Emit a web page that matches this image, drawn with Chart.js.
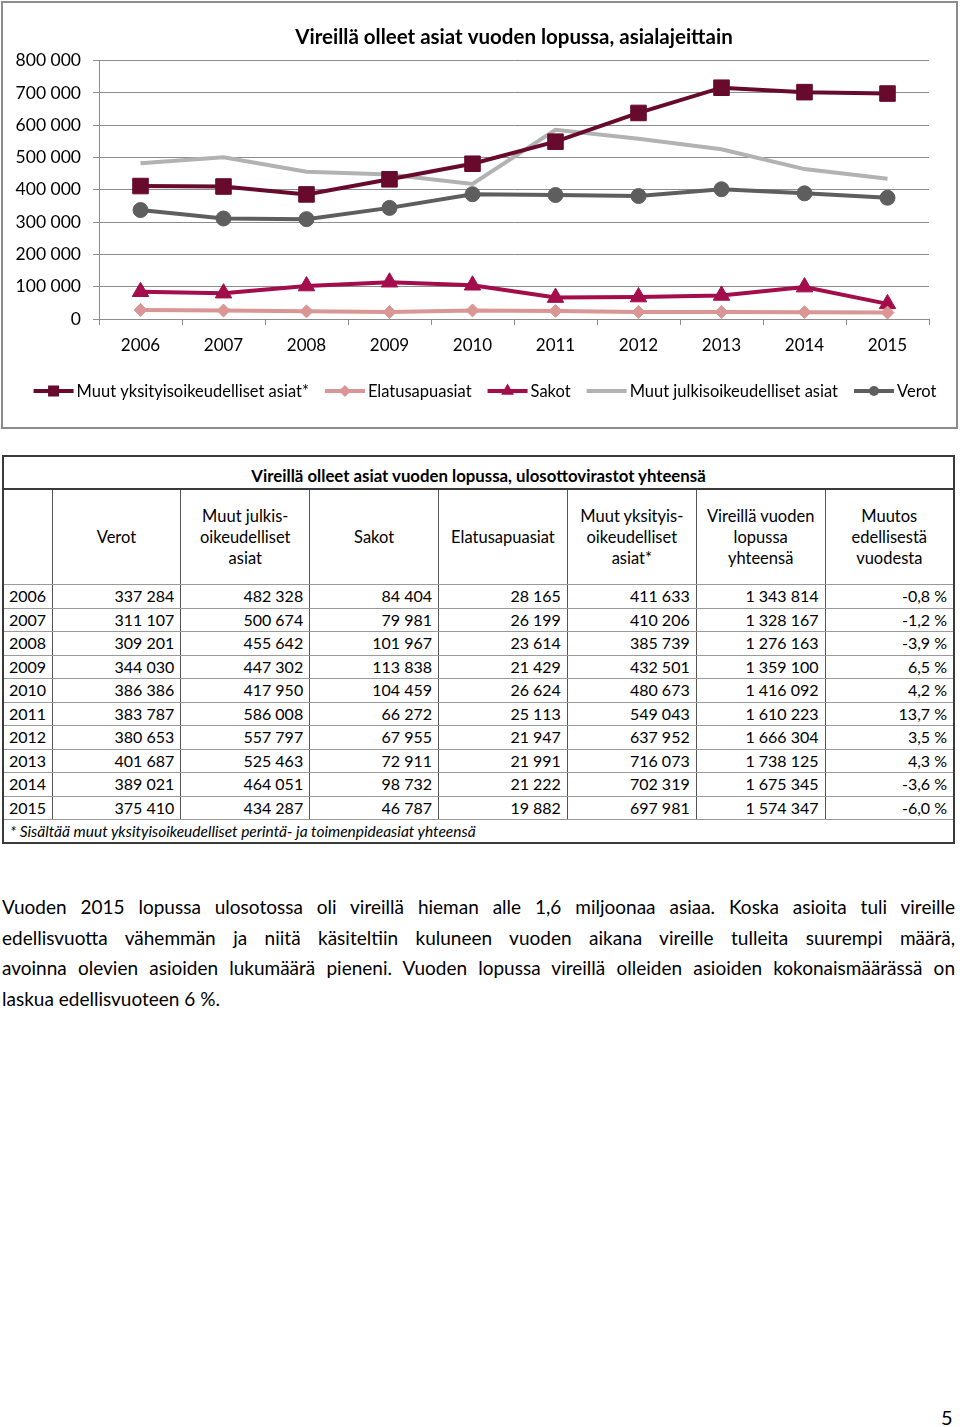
<!DOCTYPE html>
<html>
<head>
<meta charset="utf-8">
<script src="https://cdn.jsdelivr.net/npm/chart.js@4.4.1/dist/chart.umd.min.js"></script>
<style>
    body { margin: 0; width: 960px; height: 1427px; position: relative; background: #fff; font-family: Lato, 'Open Sans', sans-serif; color: #000; }
    #chartBox { position: absolute; left: 1px; top: 1px; width: 957px; height: 428px; border: 2px solid #8c8c8c; box-sizing: border-box; }
    #chartBox canvas { display: block; }
    #dataTable { position: absolute; left: 2px; top: 455px; width: 953px; border-collapse: collapse; table-layout: fixed; font-size: 16px; }
    #dataTable td, #dataTable th { padding: 0 6px; border-left: 1px solid #555; border-right: 1px solid #555; border-top: 1px solid #9a9a9a; border-bottom: 1px solid #9a9a9a; white-space: nowrap; }
    #dataTable .title td { border: 2px solid #3a3a3a; font-weight: bold; font-size: 16.8px; text-align: center; vertical-align: bottom; padding-bottom: 2px; height: 29px; }
    #dataTable .head td { text-align: center; vertical-align: middle; font-size: 16.5px; line-height: 21px; height: 94px; white-space: normal; }
    #dataTable .row td { height: 22.5px; line-height: 20px; text-align: right; }
    #dataTable .row td:first-child { text-align: left; padding-left: 5px; }
    #dataTable .note td { font-style: italic; font-size: 15.5px; height: 22px; padding-left: 6px; border-bottom: 2px solid #3a3a3a; }
    #dataTable { border: 2px solid #3a3a3a; }
    #text { position: absolute; left: 2px; top: 892px; width: 953px; font-size: 19px; line-height: 30.5px; }
    #text div { text-align: justify; text-align-last: justify; white-space: nowrap; }
    #text div.last { text-align-last: left; }
    #pageNo { position: absolute; left: 941px; top: 1405px; font-size: 20px; }
</style>
</head>
<body>
<div id="chartBox"><canvas id="lineChart" width="953" height="424"></canvas></div>
<table id="dataTable">
    <colgroup><col style="width:49px"><col><col><col><col><col><col><col></colgroup>
    <tbody id="tableBody"></tbody>
</table>
<div id="text">
    <div>Vuoden 2015 lopussa ulosotossa oli vireillä hieman alle 1,6 miljoonaa asiaa. Koska asioita tuli vireille</div>
    <div>edellisvuotta vähemmän ja niitä käsiteltiin kuluneen vuoden aikana vireille tulleita suurempi määrä,</div>
    <div>avoinna olevien asioiden lukumäärä pieneni. Vuoden lopussa vireillä olleiden asioiden kokonaismäärässä on</div>
    <div class="last">laskua edellisvuoteen 6 %.</div>
</div>
<div id="pageNo">5</div>

<script>
// Data (values from the table)
const years = ['2006', '2007', '2008', '2009', '2010', '2011', '2012', '2013', '2014', '2015'];
const verot = [337284, 311107, 309201, 344030, 386386, 383787, 380653, 401687, 389021, 375410];
const muutJulkis = [482328, 500674, 455642, 447302, 417950, 586008, 557797, 525463, 464051, 434287];
const sakot = [84404, 79981, 101967, 113838, 104459, 66272, 67955, 72911, 98732, 46787];
const elatus = [28165, 26199, 23614, 21429, 26624, 25113, 21947, 21991, 21222, 19882];
const muutYksityis = [411633, 410206, 385739, 432501, 480673, 549043, 637952, 716073, 702319, 697981];
const yhteensa = [1343814, 1328167, 1276163, 1359100, 1416092, 1610223, 1666304, 1738125, 1675345, 1574347];
const muutos = ['-0,8 %', '-1,2 %', '-3,9 %', '6,5 %', '4,2 %', '13,7 %', '3,5 %', '4,3 %', '-3,6 %', '-6,0 %'];

function fmt(n) {
    return String(n).replace(/\B(?=(\d{3})+(?!\d))/g, '\u00a0');
}

// Legend drawn as line + marker like the original
const lineLegend = {
    id: 'lineLegend',
    afterDraw(chart) {
        const ctx = chart.ctx;
        ctx.save();
        ctx.font = '16.5px Lato';
        const lineLen = 40, gapText = 3, gapItem = 16;
        const items = chart.data.datasets.map(ds => ({ ds, w: ctx.measureText(ds.label).width }));
        const total = items.reduce((a, it) => a + lineLen + gapText + it.w, 0) + gapItem * (items.length - 1);
        let x = 482 - total / 2;
        const y = 388;
        items.forEach(it => {
            const ds = it.ds;
            ctx.strokeStyle = ds.borderColor;
            ctx.lineWidth = 4;
            ctx.beginPath();
            ctx.moveTo(x, y);
            ctx.lineTo(x + lineLen, y);
            ctx.stroke();
            if (ds.legendRadius) {
                ctx.fillStyle = ds.borderColor;
                if (Chart.helpers && Chart.helpers.drawPoint) {
                    Chart.helpers.drawPoint(ctx, { pointStyle: ds.pointStyle, radius: ds.legendRadius, borderWidth: 0, rotation: 0 }, x + lineLen / 2, y);
                } else {
                    ctx.beginPath();
                    ctx.arc(x + lineLen / 2, y, ds.legendRadius, 0, Math.PI * 2);
                    ctx.fill();
                }
            }
            ctx.fillStyle = '#000';
            ctx.textBaseline = 'middle';
            ctx.fillText(ds.label, x + lineLen + gapText, y + 1);
            x += lineLen + gapText + it.w + gapItem;
        });
        ctx.restore();
    }
};

function makeSeries(label, data, color, style, radius, legendRadius) {
    return {
        label: label,
        data: data,
        borderColor: color,
        backgroundColor: color,
        pointBackgroundColor: color,
        pointBorderColor: color,
        pointBorderWidth: 1,
        borderWidth: 4,
        pointStyle: style,
        pointRadius: radius,
        pointHoverRadius: radius,
        legendRadius: legendRadius,
        tension: 0
    };
}

new Chart(document.getElementById('lineChart'), {
    type: 'line',
    data: {
        labels: years,
        datasets: [
            makeSeries('Muut yksityisoikeudelliset asiat*', muutYksityis, '#670a2c', 'rect', 11, 7.8),
            makeSeries('Elatusapuasiat', elatus, '#d99694', 'rectRot', 6.5, 6),
            makeSeries('Sakot', sakot, '#a30d4b', 'triangle', 9.5, 7.5),
            makeSeries('Muut julkisoikeudelliset asiat', muutJulkis, '#b2b2b2', 'circle', 0, 0),
            makeSeries('Verot', verot, '#5e5e5e', 'circle', 7.5, 5)
        ]
    },
    options: {
        responsive: false,
        animation: false,
        layout: { padding: { top: 0, right: 27, bottom: 58, left: 0 } },
        plugins: {
            legend: { display: false },
            tooltip: { enabled: false },
            title: {
                display: true,
                fullSize: false,
                text: 'Vireillä olleet asiat vuoden lopussa, asialajeittain',
                color: '#000',
                font: { family: 'Lato', size: 20.5, weight: 'bold' },
                padding: { top: 22, bottom: 11 }
            }
        },
        scales: {
            x: {
                offset: true,
                grid: { offset: true, drawOnChartArea: false, tickLength: 6, color: '#8c8c8c' },
                border: { color: '#8c8c8c' },
                ticks: { color: '#000', font: { family: 'Lato', size: 17 }, padding: 10 },
                afterFit: s => { s.height = 50; }
            },
            y: {
                min: 0,
                max: 800000,
                grid: { color: '#8c8c8c', tickLength: 6 },
                border: { color: '#8c8c8c' },
                ticks: { stepSize: 100000, color: '#000', font: { family: 'Lato', size: 17.5 }, padding: 12, callback: v => fmt(v) },
                afterFit: s => { s.width = 96; }
            }
        }
    },
    plugins: [lineLegend]
});

// Build the table
const tbody = document.getElementById('tableBody');
let html = '<tr class="title"><td colspan="8">Vireillä olleet asiat vuoden lopussa, ulosottovirastot yhteensä</td></tr>';
html += '<tr class="head"><td></td><td>Verot</td><td>Muut julkis-<br>oikeudelliset<br>asiat</td><td>Sakot</td><td>Elatusapuasiat</td>' +
    '<td>Muut yksityis-<br>oikeudelliset<br>asiat*</td><td>Vireillä vuoden<br>lopussa<br>yhteensä</td><td>Muutos<br>edellisestä<br>vuodesta</td></tr>';
years.forEach((y, i) => {
    html += '<tr class="row"><td>' + y + '</td><td>' + fmt(verot[i]) + '</td><td>' + fmt(muutJulkis[i]) + '</td><td>' +
        fmt(sakot[i]) + '</td><td>' + fmt(elatus[i]) + '</td><td>' + fmt(muutYksityis[i]) + '</td><td>' +
        fmt(yhteensa[i]) + '</td><td>' + muutos[i].replace(' ', '\u00a0') + '</td></tr>';
});
html += '<tr class="note"><td colspan="8">* Sisältää muut yksityisoikeudelliset perintä- ja toimenpideasiat yhteensä</td></tr>';
tbody.innerHTML = html;
</script>
</body>
</html>
